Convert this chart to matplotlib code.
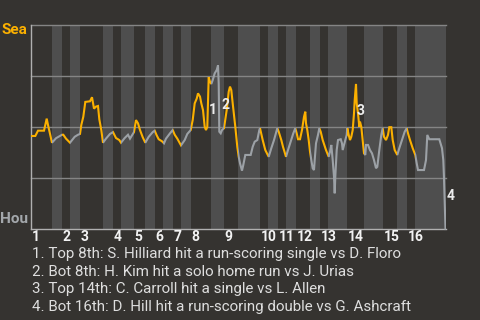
import matplotlib.pyplot as plt
import matplotlib.transforms as mtransforms
from matplotlib.patches import Rectangle

plt.rcParams['font.family'] = ['Roboto', 'DejaVu Sans']

# game progress (play position) and Seattle win probability (%)
play_x = [1, 4.3, 7, 13, 15.7, 17, 21,
          25, 29, 31,
          32.3, 35, 39,
          43.7, 47, 49,
          50.3, 52.3, 54.3, 59, 61, 63, 65, 67, 68.3, 70.3, 72,
          75, 79, 82,
          85, 88.3, 90,
          93.7, 97, 99, 101, 103,
          105, 107, 109, 111.7, 114.3,
          117.7, 121.7, 123.7,
          125.7, 127.7, 131, 133,
          135, 139, 141.7,
          143.7, 146.3, 149.7, 150,
          153.7, 156.3, 159.7,
          161.7, 163.7, 165.7, 167, 169, 170.3, 172, 173.7, 175, 176.3, 177.7, 179, 180.3,
          181.7, 183.7, 185.7, 187, 187.7, 188.3, 189.7, 191, 193,
          193.7, 195.7, 197.7, 199, 200.3, 201.7, 204.3, 206.3, 207.7,
          209, 211, 212.3, 214.3, 219.7, 221.7, 223.7, 226.3, 228.3,
          229, 231.7, 234.3, 237.7,
          240.3, 243, 246.3,
          247.7, 250.3, 252, 255,
          257, 259.7, 262.3, 264.3,
          265.7, 267, 269, 271, 273, 274.3, 275, 276.3, 277.7, 279,
          280.3, 281.7, 283, 283.7, 285, 287, 288.3,
          289.7, 291.7, 295, 297.7,
          299, 300.3, 301.7, 303, 303.7, 304.3, 305.7, 307, 309.7, 311, 311.7, 313, 314.3, 315.7, 316.3,
          317.7, 319, 320.3, 321.7, 323, 323.7, 325, 325.7, 327, 328.3, 329, 330.3, 331.7, 333, 334.3,
          335, 337, 339, 341, 343, 345, 346.3, 348.3, 350.3, 351.7,
          353, 355, 357, 358.3, 360.3, 361.7, 363.7, 366.3,
          368.3, 371, 373.7, 375.7,
          377, 379, 381.7, 384.3,
          385.7, 387, 393, 395, 396.3, 398.3, 408.3, 411, 412.3, 413, 414.5]
sea_win_pct = [45.6, 45.6, 48.2, 48.2, 54.1, 51.0, 42.3,
               44.5, 45.6, 46.2,
               46.2, 44.3, 42.3,
               45.2, 46.2, 46.6,
               51.0, 55.0, 62.3, 62.6, 64.6, 59.0, 60.0, 60.3, 53.8, 48.5, 42.3,
               44.3, 46.6, 47.5,
               44.6, 43.6, 42.3,
               44.6, 46.2, 44.3, 45.9, 47.5,
               53.4, 51.8, 48.5, 45.0, 42.3,
               45.2, 47.5, 48.2,
               45.9, 44.0, 43.0, 42.0,
               44.3, 46.9, 48.5,
               46.2, 44.3, 41.3, 41.0,
               43.6, 46.6, 48.5,
               53.4, 61.6, 63.9, 66.5, 64.9, 61.6, 58.3, 50.1, 48.5, 50.1, 74.4, 72.2, 71.1,
               73.0, 76.3, 77.9, 80.2, 71.4, 47.7, 46.9, 48.5, 49.4,
               51.8, 58.3, 67.3, 69.8, 68.1, 61.6, 50.1, 40.3, 35.4,
               32.2, 28.6, 31.4, 36.3, 36.3, 40.3, 42.8, 43.6, 48.5,
               49.4, 43.6, 38.7, 35.4,
               39.6, 43.6, 49.4,
               47.7, 43.6, 40.3, 35.4,
               38.7, 42.8, 46.9, 49.4,
               46.9, 44.0, 44.0, 48.5, 55.0, 57.5, 51.8, 48.5, 43.6, 37.9,
               33.8, 29.8, 28.9, 33.8, 42.0, 46.1, 49.4,
               47.7, 43.6, 38.7, 35.4,
               37.9, 41.2, 33.8, 25.6, 17.5, 25.6, 38.7, 43.6, 44.0, 42.0, 38.7, 41.2, 43.6, 46.1, 49.4,
               46.1, 43.6, 45.2, 48.5, 56.7, 63.2, 71.1, 61.6, 56.7, 50.1, 52.6, 50.1, 43.6, 37.1, 36.3,
               41.2, 41.2, 38.7, 37.1, 33.8, 29.8, 30.5, 38.7, 46.1, 49.4,
               45.2, 43.6, 46.1, 49.9, 49.9, 43.6, 38.7, 36.3,
               39.6, 43.6, 47.7, 49.4,
               46.9, 43.6, 39.6, 36.3,
               32.2, 28.9, 28.9, 33.8, 46.1, 44.0, 44.0, 39.6, 33.8, 25.0, 0.0]

innings = [str(i) for i in range(1, 17)]
top_start = [0, 31, 49, 82, 103, 124, 142, 160, 193, 229, 247, 265, 289, 316, 352, 376]
bot_start = [21, 39, 72, 90, 114, 132, 150, 180, 207, 237, 255, 279, 297, 333, 366, 384]
game_end = 415

event_labels = ['1', '2', '3', '4']
event_x = [181.7, 194, 329.3, 419.3]
event_y = [58.3, 60.8, 57.8, 16.0]
event_notes = [
    '1. Top 8th: S. Hilliard hit a run-scoring single vs D. Floro',
    '2. Bot 8th: H. Kim hit a solo home run vs J. Urias',
    '3. Top 14th: C. Carroll hit a single vs L. Allen',
    '4. Bot 16th: D. Hill hit a run-scoring double vs G. Ashcraft',
]

bg = '#353330'
band = '#4e4e4e'
grid = '#858585'
orange = '#fbb000'
grey_line = '#9ca1a6'
text_col = '#dedede'

fig = plt.figure(figsize=(4.8, 3.2), dpi=100, facecolor=bg)
ax = fig.add_axes([31 / 480, 1 - 229 / 320, 415 / 480, 204 / 320])
ax.set_facecolor(bg)
ax.set_xlim(0, game_end)
ax.set_ylim(0, 100)

bot_end = top_start[1:] + [game_end]
for b, e in zip(bot_start, bot_end):
    ax.axvspan(b, e, color=band, lw=0, zorder=0)

for v in [25, 50, 75, 100]:
    ax.axhline(v, color=grid, lw=1, zorder=1, clip_on=False)

# line coloured by batting team: orange for Sea at bat (top), grey for Hou (bottom)
halves = [(t, b, orange) for t, b in zip(top_start, bot_start)] + \
         [(b, e, grey_line) for b, e in zip(bot_start, bot_end)]
for s, e, c in halves:
    ln, = ax.plot(play_x, sea_win_pct, color=c, lw=1.5, zorder=3,
                  solid_joinstyle='miter')
    clip = Rectangle((s, -10), e - s, 120, transform=ax.transData)
    ln.set_clip_path(clip)

for sp in ['top', 'right']:
    ax.spines[sp].set_visible(False)
for sp in ['left', 'bottom']:
    ax.spines[sp].set_color('#b0b0b0')
    ax.spines[sp].set_linewidth(1)
ax.set_xticks([])
ax.set_yticks([])

trans = mtransforms.blended_transform_factory(ax.transData, ax.transAxes)
for t, lab in zip(top_start, innings):
    ax.text(t + 0.5, -0.04, lab, transform=trans, ha='left', va='center',
            fontsize=10, fontweight='bold', color='#f2f2f2')

for x, y, lab in zip(event_x, event_y, event_labels):
    ax.text(x, y, lab, ha='center', va='center', fontsize=10,
            fontweight='bold', color='#ececec', zorder=4, clip_on=False)

fig.text(27 / 480, 1 - 30.5 / 320, 'Sea', ha='right', va='center',
         fontsize=11, fontweight='bold', color=orange)
fig.text(28 / 480, 1 - 219 / 320, 'Hou', ha='right', va='center',
         fontsize=11, fontweight='bold', color='#a3a7ab')

for i, note in enumerate(event_notes):
    fig.text(32 / 480, 1 - (254 + 17.7 * i) / 320, note, ha='left', va='center',
             fontsize=10.9, color=text_col)

fig.savefig('out.png', dpi=100, facecolor=bg)
